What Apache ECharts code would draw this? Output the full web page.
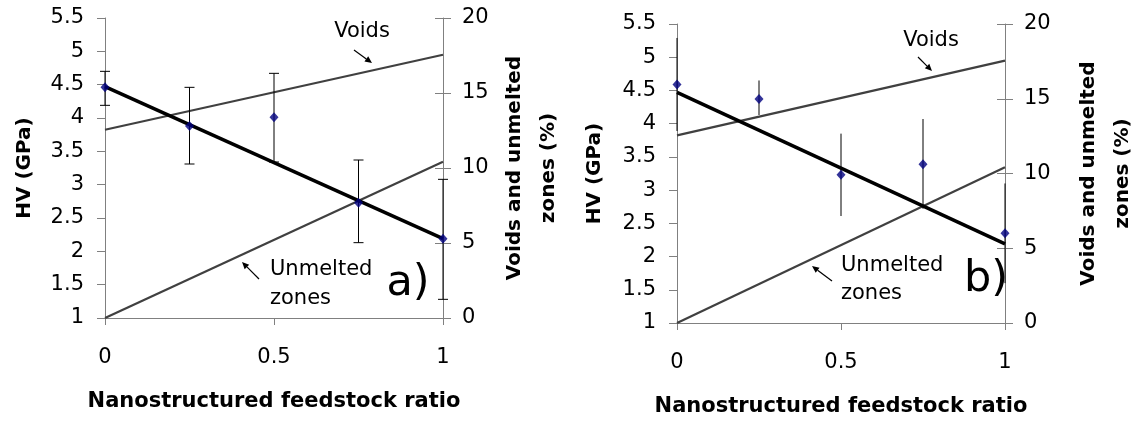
<!DOCTYPE html>
<html><head><meta charset="utf-8">
<script src="https://cdn.jsdelivr.net/npm/echarts@6/dist/echarts.min.js"></script>
<style>html,body{margin:0;padding:0;background:#fff}#c{width:1141px;height:423px}</style>
</head><body><div id="c"></div>
<script>
// ---- data ----
const xRatio = [0, 0.25, 0.5, 0.75, 1];
const hvA = [4.46, 3.88, 4.01, 2.73, 2.19];
const hvA_low = [4.19, 3.31, 3.34, 2.13, 1.28];
const hvA_high = [4.70, 4.46, 4.67, 3.37, 3.08];
const hvB = [4.59, 4.37, 3.23, 3.39, 2.35];
const hvB_low = [3.89, 4.13, 2.61, 2.72, 1.60];
const hvB_high = [5.29, 4.65, 3.85, 4.07, 3.10];
const fitX = [0, 1];
const fitHV = [4.47, 2.19];
const fitVoids = [12.55, 17.55];
const fitUnmelted = [0, 10.42];
const xTicks = ['0', '0.5', '1'];

const FONT = 'DejaVu Sans';
const AX = '#808080';

function pairs(xs, ys) { return xs.map((x, i) => [x, ys[i]]); }
function errData(xs, lo, hi) { return xs.map((x, i) => [x, lo[i], hi[i]]); }

function errSeries(xi, yi, data, cap) {
  return {
    type: 'custom', xAxisIndex: xi, yAxisIndex: yi, z: 3,
    encode: { x: 0, y: [1, 2] },
    data: data,
    renderItem: function (params, api) {
      const x = api.value(0), lo = api.value(1), hi = api.value(2);
      const p1 = api.coord([x, lo]), p2 = api.coord([x, hi]);
      const st = { stroke: '#000', lineWidth: 1 };
      const ch = [{ type: 'line', shape: { x1: p1[0], y1: p1[1], x2: p2[0], y2: p2[1] }, style: st }];
      if (cap > 0) {
        ch.push({ type: 'line', shape: { x1: p1[0] - cap, y1: p1[1], x2: p1[0] + cap, y2: p1[1] }, style: st });
        ch.push({ type: 'line', shape: { x1: p2[0] - cap, y1: p2[1], x2: p2[0] + cap, y2: p2[1] }, style: st });
      }
      return { type: 'group', children: ch };
    }
  };
}

function xAx(gi) {
  return {
    type: 'value', gridIndex: gi, min: 0, max: 1, interval: 0.5,
    axisLine: { lineStyle: { color: AX, width: 1 } },
    axisTick: { show: true, length: 7, lineStyle: { color: AX } },
    splitLine: { show: false },
    axisLabel: { color: '#000', fontSize: 21, fontFamily: FONT, margin: 29,
      formatter: v => xTicks[Math.round(v * 2)] },
    name: 'Nanostructured feedstock ratio', nameLocation: 'middle', nameGap: 73,
    nameTextStyle: { color: '#000', fontSize: 21, fontWeight: 'bold', fontFamily: FONT }
  };
}
function yLeft(gi, gap) {
  return {
    type: 'value', gridIndex: gi, position: 'left', min: 1, max: 5.5, interval: 0.5,
    axisLine: { show: true, lineStyle: { color: AX, width: 1 } },
    axisTick: { show: true, length: 8, lineStyle: { color: AX } },
    splitLine: { show: false },
    axisLabel: { color: '#000', fontSize: 21, fontFamily: FONT, margin: 21 },
    name: 'HV (GPa)', nameLocation: 'middle', nameGap: gap, nameRotate: 90,
    nameTextStyle: { color: '#000', fontSize: 20, fontWeight: 'bold', fontFamily: FONT }
  };
}
function yRight(gi, gap) {
  return {
    type: 'value', gridIndex: gi, position: 'right', min: 0, max: 20, interval: 5,
    axisLine: { show: true, lineStyle: { color: AX, width: 1 } },
    axisTick: { show: true, length: 8, lineStyle: { color: AX } },
    splitLine: { show: false },
    axisLabel: { color: '#000', fontSize: 21, fontFamily: FONT, margin: 19 },
    name: 'Voids and unmelted\nzones (%)', nameLocation: 'middle', nameGap: gap, nameRotate: 90,
    nameTextStyle: { color: '#000', fontSize: 20, fontWeight: 'bold', fontFamily: FONT, lineHeight: 34 }
  };
}
function yRightIn(gi) {
  return {
    type: 'value', gridIndex: gi, position: 'right', min: 0, max: 20, interval: 5,
    axisLine: { show: false }, axisLabel: { show: false }, splitLine: { show: false },
    axisTick: { show: true, inside: true, length: 8, lineStyle: { color: AX } }
  };
}

function panelSeries(xi, yL, yR, hv, lo, hi, cap) {
  return [
    { type: 'line', xAxisIndex: xi, yAxisIndex: yR, data: pairs(fitX, fitVoids), symbol: 'none',
      lineStyle: { color: '#404040', width: 2.2 }, z: 2, silent: true },
    { type: 'line', xAxisIndex: xi, yAxisIndex: yR, data: pairs(fitX, fitUnmelted), symbol: 'none',
      lineStyle: { color: '#404040', width: 2.2 }, z: 2, silent: true },
    { type: 'line', xAxisIndex: xi, yAxisIndex: yL, data: pairs(fitX, fitHV), symbol: 'none',
      lineStyle: { color: '#000', width: 3.5 }, z: 2, silent: true },
    errSeries(xi, yL, errData(xRatio, lo, hi), cap),
    { type: 'scatter', xAxisIndex: xi, yAxisIndex: yL, data: pairs(xRatio, hv), symbol: 'diamond',
      symbolSize: [9, 10], itemStyle: { color: '#000080' }, z: 4 }
  ];
}

function arrow(x1, y1, x2, y2) {
  const a = Math.atan2(y2 - y1, x2 - x1), L = 7, W = 3.2;
  const bx = x2 - L * Math.cos(a), by = y2 - L * Math.sin(a);
  const px = -Math.sin(a) * W, py = Math.cos(a) * W;
  return [
    { type: 'line', shape: { x1: x1, y1: y1, x2: bx, y2: by }, style: { stroke: '#000', lineWidth: 1.2 }, z: 10 },
    { type: 'polygon', shape: { points: [[x2, y2], [bx + px, by + py], [bx - px, by - py]] }, style: { fill: '#000' }, z: 10 }
  ];
}
function txt(s, x, y, size, align) {
  return { type: 'text', z: 10, x: x, y: y, style: { text: s, font: size + 'px "' + FONT + '"', fill: '#000',
    textAlign: align || 'center', textVerticalAlign: 'middle' } };
}

const graphics = [].concat(
  [txt('Voids', 362, 32, 21)], arrow(354, 50, 372, 63),
  [txt('Unmelted', 270, 270, 21, 'left'), txt('zones', 270, 299, 21, 'left')], arrow(259, 279, 242, 262),
  [txt('a)', 408, 284, 43)],
  [txt('Voids', 931, 41, 21)], arrow(918, 57, 932, 71),
  [txt('Unmelted', 841, 266, 21, 'left'), txt('zones', 841, 294, 21, 'left')], arrow(832, 281, 812, 266),
  [txt('b)', 986, 280, 43)]
);

const chart = echarts.init(document.getElementById('c'), null, { renderer: 'canvas' });
chart.setOption({
  animation: false,
  backgroundColor: '#fff',
  grid: [
    { left: 105, right: 1141 - 443, top: 18, bottom: 423 - 318 },
    { left: 677, right: 1141 - 1017, top: 24, bottom: 423 - 323 }
  ],
  xAxis: [xAx(0), xAx(1)],
  yAxis: [yLeft(0, 70), yRight(0, 55), yRightIn(0), yLeft(1, 72), yRight(1, 67), yRightIn(1)],
  series: [].concat(
    panelSeries(0, 0, 1, hvA, hvA_low, hvA_high, 5),
    panelSeries(1, 3, 4, hvB, hvB_low, hvB_high, 0)
  ),
  graphic: graphics
});
</script></body></html>
